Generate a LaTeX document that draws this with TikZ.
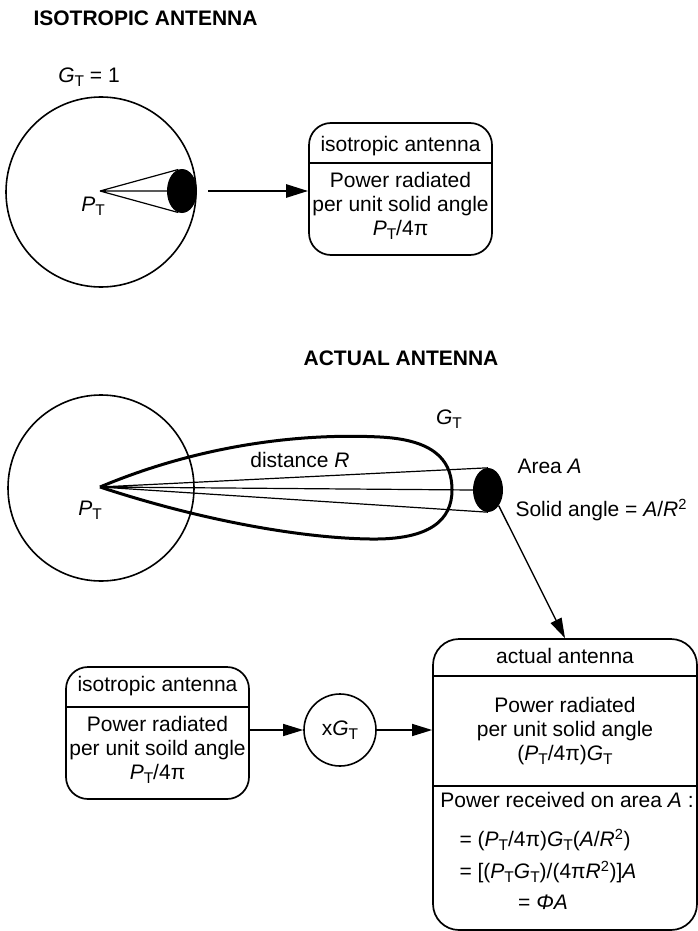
\documentclass[tikz,border=0pt]{standalone}
\usepackage{fontspec}
\setmainfont{Liberation Sans}
\usetikzlibrary{arrows.meta,shapes.geometric,positioning,calc}

\newcommand{\subT}{\raisebox{-4pt}{\fontsize{15.5}{15.5}\selectfont T}}
\newcommand{\Gt}{\textit{G}\subT}
\newcommand{\Pt}{\textit{P}\subT}

\begin{document}
\begin{tikzpicture}[
    x=1pt, y=-1pt,
    font=\fontsize{21}{24}\selectfont,
    title/.style={font=\fontsize{21}{24}\selectfont\bfseries},
    sphere/.style={circle, draw, line width=1.6pt, minimum size=#1, inner sep=0pt},
    disc/.style={ellipse, fill=black, minimum width=30pt, minimum height=44pt, inner sep=0pt},
    panel/.style={rectangle, draw, rounded corners=22pt, line width=1.7pt, minimum width=183pt, minimum height=132pt},
    divider/.style={line width=2.6pt},
    ray/.style={line width=1.2pt},
    lobe/.style={line width=3pt, line join=round},
    arrow/.style={-{Triangle[length=20pt, width=12pt]}, line width=1.4pt},
    bigarrow/.style={-{Triangle[length=22pt, width=13pt]}, line width=2.6pt}
]
    \useasboundingbox (0,0) rectangle (698,931);

    % isotropic antenna
    \node[title, anchor=west] (isotitle) at (30,18) {ISOTROPIC ANTENNA};
    \node (gainone) at (89,77) {\Gt{} = 1};
    \node[sphere=190pt] (sphere1) at (101,192) {};
    \coordinate (src1) at (100,191);
    \node[disc] (disc1) at (182,191) {};
    \draw[ray] (src1) -- (disc1.100) (src1) -- (disc1.west) (src1) -- (disc1.260);
    \node (src1label) at (93,206) {\Pt};

    \node[panel] (isobox) at (400.5,189) {};
    \coordinate (isosplit) at (400.5,163);
    \draw[divider] (isobox.west |- isosplit) -- (isobox.east |- isosplit);
    \node (isohead) at (400.5,146) {isotropic antenna};
    \node[align=center] (isotext) at (400.5,206) {Power radiated\\per unit solid angle\\\Pt/4π};
    \draw[bigarrow, shorten <=11pt] (disc1.east) -- (disc1.east -| isobox.west);

    % actual antenna
    \node[title] (acttitle) at (401,358) {ACTUAL ANTENNA};
    \node[sphere=186pt] (sphere2) at (101,488) {};
    \coordinate (src2) at (100,487);
    \node[disc] (disc2) at (488,490) {};
    \draw[lobe] (src2) .. controls (200,445) and (300,433) .. (380,437)
        .. controls (440,440) and (452,465) .. (452,490)
        .. controls (452,520) and (430,540) .. (370,539)
        .. controls (300,538) and (200,520) .. (src2);
    \draw[ray] (src2) -- (disc2.north) (src2) -- (disc2.west) (src2) -- (disc2.south);
    \node (src2label) at (90,510) {\Pt};
    \node (distlabel) at (300,460) {distance \textit{R}};
    \node (gainlabel) at (449,419) {\Gt};
    \node[anchor=west] (arealabel) at (514,466) {Area \textit{A}};
    \node[anchor=west] (anglelabel) at (512,510) {Solid angle = \textit{A}/\textit{R}\textsuperscript{2}};

    \node[panel] (isobox2) at (157.5,733) {};
    \coordinate (isosplit2) at (157.5,707);
    \draw[divider] (isobox2.west |- isosplit2) -- (isobox2.east |- isosplit2);
    \node (isohead2) at (157.5,686) {isotropic antenna};
    \node[align=center] (isotext2) at (157.5,750) {Power radiated\\per unit soild angle\\\Pt/4π};

    \node[sphere=72pt] (gain) at (340,730) {x\Gt};

    \node[panel, minimum width=264pt, minimum height=291pt, rounded corners=26pt] (actbox) at (565,784.5) {};
    \coordinate (actsplit) at (565,676);
    \coordinate (actsplit2) at (565,786);
    \draw[divider] (actbox.west |- actsplit) -- (actbox.east |- actsplit);
    \draw[line width=1.7pt] (actbox.west |- actsplit2) -- (actbox.east |- actsplit2);
    \node (acthead) at (565,656) {actual antenna};
    \node[align=center] (acttext) at (565,731) {Power radiated\\per unit solid angle\\(\Pt/4π)\Gt};
    \node (recvtitle) at (567,800) {Power received on area \textit{A} :};
    \node[anchor=west] (recvone) at (456,840) {= (\Pt/4π)\Gt(\textit{A}/\textit{R}\textsuperscript{2})};
    \node[anchor=west] (recvtwo) at (456,872) {= [(\Pt\Gt)/(4π\textit{R}\textsuperscript{2})]\textit{A}};
    \node (recvthree) at (543,902) {= \textit{Φ}\textit{A}};

    \draw[arrow] (isobox2.east |- gain) -- (gain);
    \draw[arrow] (gain) -- (gain -| actbox.west);
    \draw[arrow] (disc2.south east) -- (actbox.north);
\end{tikzpicture}
\end{document}
